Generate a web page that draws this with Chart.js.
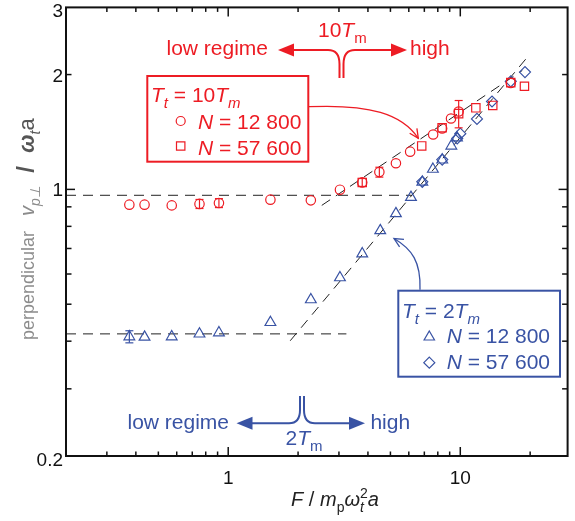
<!DOCTYPE html>
<html>
<head>
<meta charset="utf-8">
<script src="https://cdn.jsdelivr.net/npm/chart.js@4.4.0/dist/chart.umd.min.js"></script>
<style>
html, body { margin: 0; padding: 0; background: #fff; }
canvas { display: block; }
</style>
</head>
<body>
<canvas id="chart" width="575" height="521"></canvas>
<script>
const red = "rgb(237, 28, 36)";
const blue = "rgb(57, 83, 164)";
const fam = '"Liberation Sans", Arial, sans-serif';

// T_t = 10 T_m, N = 12 800 (circles)
const redCircleX = [0.375, 0.436, 0.571, 0.752, 0.912, 1.52, 2.27, 3.03, 3.78, 4.48, 5.28, 6.08, 7.64, 8.35, 9.12, 9.84, 16.5];
const redCircleY = [0.912, 0.912, 0.908, 0.916, 0.921, 0.940, 0.936, 0.998, 1.043, 1.11, 1.171, 1.256, 1.393, 1.445, 1.534, 1.60, 1.90];
const redCircleErr = [0, 0, 0, 0.025, 0.025, 0, 0, 0, 0.025, 0.033, 0, 0, 0, 0, 0, 0, 0];
// T_t = 10 T_m, N = 57 600 (squares)
const redSquareX = [3.78, 6.82, 8.35, 9.84, 11.67, 13.8, 16.5, 18.9];
const redSquareY = [1.043, 1.30, 1.451, 1.58, 1.636, 1.66, 1.905, 1.864];
const redSquareErr = [0, 0, 0, 0.13, 0, 0, 0, 0];
// T_t = 2 T_m, N = 12 800 (triangles)
const blueTriX = [0.375, 0.436, 0.571, 0.752, 0.912, 1.52, 2.27, 3.03, 3.78, 4.52, 5.28, 6.13, 6.86, 7.62, 8.36, 9.15, 9.68];
const blueTriY = [0.411, 0.410, 0.411, 0.418, 0.421, 0.448, 0.514, 0.587, 0.678, 0.780, 0.864, 0.953, 1.045, 1.13, 1.195, 1.30, 1.366];
const blueTriErr = [0.015, 0, 0, 0, 0, 0, 0, 0, 0, 0, 0, 0, 0, 0, 0, 0, 0];
// T_t = 2 T_m, N = 57 600 (diamonds)
const blueDiaX = [6.86, 8.36, 9.7, 10.0, 11.8, 13.7, 16.5, 19.0];
const blueDiaY = [1.047, 1.197, 1.36, 1.40, 1.53, 1.70, 1.92, 2.03];

// dashed guide lines
const redFlatX = [0.2, 6.2], redFlatY = [0.965, 0.965];
const redSlopeX = [2.53, 18.5], redSlopeY = [0.908, 2.05];
const blueFlatX = [0.2, 3.23], blueFlatY = [0.418, 0.418];
const blueSlopeX = [1.85, 19.8], blueSlopeY = [0.401, 2.25];

// axes
const xMajor = [1, 10];
const xMinor = [0.3, 0.4, 0.5, 0.6, 0.7, 0.8, 0.9, 2, 3, 4, 5, 6, 7, 8, 9, 20];
const xLabels = [1, 10];
const yMajor = [1];
const yMinor = [0.3, 0.4, 0.5, 0.6, 0.7, 0.8, 0.9, 2];
const yLabels = [0.2, 1, 2, 3];

const pts = (xs, ys) => xs.map((v, i) => ({ x: v, y: ys[i] }));

function rich(ctx, parts, x, y, size, color, align) {
  const items = parts.map(p => {
    const s = p.sub || p.sup ? Math.round(size * 0.7) : (p.size || size);
    const font = (p.i ? "italic " : "") + (p.b ? "bold " : "") + s + "px " + fam;
    ctx.font = font;
    return Object.assign({}, p, { font, w: ctx.measureText(p.t).width });
  });
  const total = items.reduce((sum, it) => sum + (it.k ? 0 : it.w), 0);
  let cx = align === "center" ? x - total / 2 : align === "right" ? x - total : x;
  ctx.textAlign = "left";
  ctx.textBaseline = "alphabetic";
  items.forEach(it => {
    ctx.font = it.font;
    ctx.fillStyle = it.c || color;
    const dy = it.sub ? size * 0.3 : it.sup ? -size * 0.42 : 0;
    ctx.fillText(it.t, cx, y + dy);
    if (!it.k) cx += it.w;
  });
}

function line(ctx, x1, y1, x2, y2) {
  ctx.beginPath(); ctx.moveTo(x1, y1); ctx.lineTo(x2, y2); ctx.stroke();
}

function headFilled(ctx, tipX, y, dir) {
  ctx.beginPath();
  ctx.moveTo(tipX, y);
  ctx.lineTo(tipX - dir * 16, y - 6.5);
  ctx.lineTo(tipX - dir * 16, y + 6.5);
  ctx.closePath();
  ctx.fill();
}

function chevron(ctx, x, y, dx, dy) {
  const a = Math.atan2(dy, dx), L = 10, s = 0.45;
  ctx.beginPath();
  ctx.moveTo(x - L * Math.cos(a - s), y - L * Math.sin(a - s));
  ctx.lineTo(x, y);
  ctx.lineTo(x - L * Math.cos(a + s), y - L * Math.sin(a + s));
  ctx.stroke();
}

function marker(ctx, style, x, y, color) {
  ctx.strokeStyle = color; ctx.lineWidth = 1.2;
  ctx.beginPath();
  if (style === "circle") ctx.arc(x, y, 4.5, 0, Math.PI * 2);
  if (style === "rect") ctx.rect(x - 4.2, y - 4.2, 8.4, 8.4);
  if (style === "triangle") {
    ctx.moveTo(x, y - 6); ctx.lineTo(x + 5.2, y + 3); ctx.lineTo(x - 5.2, y + 3); ctx.closePath();
  }
  if (style === "rectRot") {
    ctx.moveTo(x, y - 5.5); ctx.lineTo(x + 5.5, y); ctx.lineTo(x, y + 5.5); ctx.lineTo(x - 5.5, y); ctx.closePath();
  }
  ctx.stroke();
}

const decor = {
  id: "decor",
  afterDatasetsDraw(chart) {
    const { ctx, scales: { x, y } } = chart;
    const bars = (xs, ys, es, color) => {
      ctx.save();
      ctx.strokeStyle = color; ctx.lineWidth = 1.2;
      xs.forEach((v, i) => {
        if (!es[i]) return;
        const px = x.getPixelForValue(v);
        const y1 = y.getPixelForValue(ys[i] + es[i]);
        const y2 = y.getPixelForValue(ys[i] - es[i]);
        line(ctx, px, y1, px, y2);
        line(ctx, px - 4, y1, px + 4, y1);
        line(ctx, px - 4, y2, px + 4, y2);
      });
      ctx.restore();
    };
    bars(redCircleX, redCircleY, redCircleErr, red);
    bars(redSquareX, redSquareY, redSquareErr, red);
    bars(blueTriX, blueTriY, blueTriErr, blue);
  },
  afterDraw(chart) {
    const { ctx, chartArea: a, scales: { x, y } } = chart;
    ctx.save();
    // frame and ticks on all four sides
    ctx.strokeStyle = "#111";
    ctx.lineWidth = 2;
    ctx.strokeRect(a.left, a.top, a.right - a.left, a.bottom - a.top);
    ctx.lineWidth = 1.5;
    const xt = (v, len) => {
      const px = x.getPixelForValue(v);
      line(ctx, px, a.bottom, px, a.bottom - len);
      line(ctx, px, a.top, px, a.top + len);
    };
    const yt = (v, len) => {
      const py = y.getPixelForValue(v);
      line(ctx, a.left, py, a.left + len, py);
      line(ctx, a.right, py, a.right - len, py);
    };
    xMajor.forEach(v => xt(v, 9));
    xMinor.forEach(v => xt(v, 4.5));
    yMajor.forEach(v => yt(v, 9));
    yMinor.forEach(v => yt(v, 5.5));

    // tick labels
    ctx.fillStyle = "#111";
    ctx.font = "19px " + fam;
    ctx.textAlign = "center";
    ctx.textBaseline = "alphabetic";
    xLabels.forEach(v => ctx.fillText(String(v), x.getPixelForValue(v), 484));
    ctx.textAlign = "right";
    yLabels.forEach(v => {
      const py = y.getPixelForValue(v);
      const base = py >= a.bottom - 1 ? py + 10 : Math.max(py + 7, 17);
      ctx.fillText(String(v), a.left - 3, base);
    });

    // axis titles
    rich(ctx, [
      { t: "F", i: 1 }, { t: " / " }, { t: "m", i: 1 }, { t: "p", sub: 1 },
      { t: "ω", i: 1 }, { t: "t", i: 1, sub: 1, k: 1 }, { t: "2", sup: 1 }, { t: "a", i: 1 }
    ], 335, 506, 20, "#222", "center");

    ctx.save();
    ctx.translate(34, 340);
    ctx.rotate(-Math.PI / 2);
    rich(ctx, [
      { t: "perpendicular   ", size: 18 }, { t: "v", i: 1, size: 20 }, { t: "p⊥", i: 1, sub: 1 },
      { t: "  /  ", b: 1, size: 24, c: "#555" }, { t: "ω", i: 1, b: 1, size: 22, c: "#555" },
      { t: "t", i: 1, sub: 1, c: "#555" }, { t: "a", size: 22, c: "#555" }
    ], 0, 0, 20, "#8c8c8c", "left");
    ctx.restore();

    // red regime annotation (top)
    ctx.strokeStyle = red; ctx.fillStyle = red; ctx.lineWidth = 2;
    rich(ctx, [{ t: "low regime" }], 268, 55, 21, red, "right");
    rich(ctx, [{ t: "high" }], 410, 55, 21, red, "left");
    rich(ctx, [{ t: "10" }, { t: "T", i: 1 }, { t: "m", sub: 1 }], 318, 37, 21, red, "left");
    ctx.strokeStyle = red; ctx.lineWidth = 2;
    ctx.beginPath();
    ctx.moveTo(290, 50); ctx.lineTo(328, 50);
    ctx.quadraticCurveTo(339.5, 50, 339.5, 64); ctx.lineTo(339.5, 78);
    ctx.moveTo(395, 50); ctx.lineTo(355, 50);
    ctx.quadraticCurveTo(343.5, 50, 343.5, 64); ctx.lineTo(343.5, 78);
    ctx.stroke();
    headFilled(ctx, 278, 50, -1);
    headFilled(ctx, 407, 50, 1);

    // red legend box
    ctx.lineWidth = 2;
    ctx.strokeRect(147.3, 76, 161, 85.7);
    rich(ctx, [{ t: "T", i: 1 }, { t: "t", i: 1, sub: 1 }, { t: " = 10" }, { t: "T", i: 1 }, { t: "m", i: 1, sub: 1 }], 151, 101.7, 21, red, "left");
    marker(ctx, "circle", 180.7, 121, red);
    marker(ctx, "rect", 180.7, 146, red);
    rich(ctx, [{ t: "N", i: 1 }, { t: " = 12 800" }], 198, 129, 21, red, "left");
    rich(ctx, [{ t: "N", i: 1 }, { t: " = 57 600" }], 198, 154.5, 21, red, "left");
    ctx.lineWidth = 1.3;
    ctx.beginPath();
    ctx.moveTo(309, 106.7);
    ctx.bezierCurveTo(370, 104, 402, 114, 418.3, 138.3);
    ctx.stroke();
    chevron(ctx, 418.3, 138.3, 16.3, 24.3);

    // blue legend box
    ctx.strokeStyle = blue; ctx.fillStyle = blue; ctx.lineWidth = 2;
    ctx.strokeRect(398.3, 290.7, 161.7, 86);
    rich(ctx, [{ t: "T", i: 1 }, { t: "t", i: 1, sub: 1 }, { t: " = 2" }, { t: "T", i: 1 }, { t: "m", i: 1, sub: 1 }], 402, 317.5, 21, blue, "left");
    marker(ctx, "triangle", 429.3, 337, blue);
    marker(ctx, "rectRot", 429.3, 362.7, blue);
    rich(ctx, [{ t: "N", i: 1 }, { t: " = 12 800" }], 446.7, 343.3, 21, blue, "left");
    rich(ctx, [{ t: "N", i: 1 }, { t: " = 57 600" }], 446.7, 369, 21, blue, "left");
    ctx.lineWidth = 1.3;
    ctx.beginPath();
    ctx.moveTo(420, 289.7);
    ctx.bezierCurveTo(421, 262, 412, 249, 394, 238.5);
    ctx.stroke();
    chevron(ctx, 394, 238.5, -18, -10.5);

    // blue regime annotation (bottom)
    ctx.lineWidth = 2;
    rich(ctx, [{ t: "low regime" }], 229, 428.5, 21, blue, "right");
    rich(ctx, [{ t: "high" }], 370.4, 428.5, 21, blue, "left");
    rich(ctx, [{ t: "2" }, { t: "T", i: 1 }, { t: "m", sub: 1 }], 304, 445, 21, blue, "center");
    ctx.beginPath();
    ctx.moveTo(250, 423.3); ctx.lineTo(289, 423.3);
    ctx.quadraticCurveTo(300, 423.3, 300, 410); ctx.lineTo(300, 396);
    ctx.moveTo(352, 423.3); ctx.lineTo(315, 423.3);
    ctx.quadraticCurveTo(304, 423.3, 304, 410); ctx.lineTo(304, 396);
    ctx.stroke();
    headFilled(ctx, 236.5, 423.3, -1);
    headFilled(ctx, 365, 423.3, 1);
    ctx.restore();
  }
};

const dash = { showLine: true, borderColor: "#222", borderWidth: 1, borderDash: [10, 7], pointRadius: 0, fill: false };

new Chart(document.getElementById("chart"), {
  type: "scatter",
  data: {
    datasets: [
      { label: "10Tm N=12800", data: pts(redCircleX, redCircleY), pointStyle: "circle", pointRadius: 4.7, borderColor: red, backgroundColor: "transparent", borderWidth: 1.2 },
      { label: "10Tm N=57600", data: pts(redSquareX, redSquareY), pointStyle: "rect", pointRadius: 5.9, borderColor: red, backgroundColor: "transparent", borderWidth: 1.2 },
      { label: "2Tm N=12800", data: pts(blueTriX, blueTriY), pointStyle: "triangle", pointRadius: 6.2, borderColor: blue, backgroundColor: "transparent", borderWidth: 1.2 },
      { label: "2Tm N=57600", data: pts(blueDiaX, blueDiaY), pointStyle: "rectRot", pointRadius: 5.5, borderColor: blue, backgroundColor: "transparent", borderWidth: 1.2 },
      Object.assign({ label: "red low", data: pts(redFlatX, redFlatY) }, dash),
      Object.assign({ label: "red high", data: pts(redSlopeX, redSlopeY) }, dash),
      Object.assign({ label: "blue low", data: pts(blueFlatX, blueFlatY) }, dash),
      Object.assign({ label: "blue high", data: pts(blueSlopeX, blueSlopeY) }, dash),
    ],
  },
  options: {
    responsive: false,
    animation: false,
    devicePixelRatio: 1,
    layout: { padding: { left: 66, top: 5, right: 1, bottom: 65 } },
    plugins: { legend: { display: false }, tooltip: { enabled: false } },
    scales: {
      x: {
        type: "logarithmic", min: 0.2, max: 29,
        ticks: { display: false }, grid: { display: false, drawTicks: false }, border: { display: false },
        afterFit: s => { s.height = 0; },
      },
      y: {
        type: "logarithmic", min: 0.2, max: 3,
        ticks: { display: false }, grid: { display: false, drawTicks: false }, border: { display: false },
        afterFit: s => { s.width = 0; },
      },
    },
  },
  plugins: [decor],
});
</script>
</body>
</html>
